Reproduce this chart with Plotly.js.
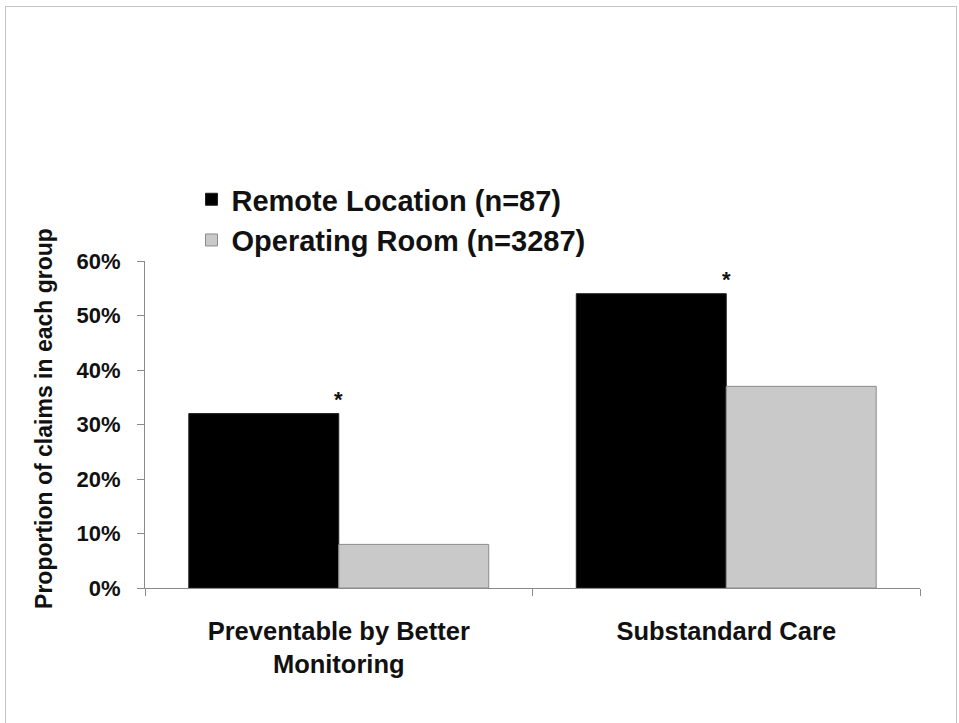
<!DOCTYPE html>
<html>
<head>
<meta charset="utf-8">
<script src="https://cdn.plot.ly/plotly-3.0.1.min.js"></script>
<style>
  html, body { margin: 0; padding: 0; background: #ffffff; }
  #wrap { position: relative; width: 959px; height: 723px; }
  #chart { position: absolute; left: 0; top: 0; width: 959px; height: 723px; }
  #frame { position: absolute; left: 5px; top: 6px; width: 952px; height: 730px;
           border: 1px solid #c4c4c4; box-sizing: border-box; pointer-events: none; }
</style>
</head>
<body>
<div id="wrap">
  <div id="chart"></div>
  <div id="frame"></div>
</div>
<script>
const categories = ["Preventable by Better<br>Monitoring", "Substandard Care"];
const seriesNames = ["Remote Location (n=87)", "Operating Room (n=3287)"];
const remoteValues = [32, 54];
const orValues = [8, 37];
const significance = ["*", "*"];
const yTickVals = [0, 10, 20, 30, 40, 50, 60];
const yTickText = ["0%", "10%", "20%", "30%", "40%", "50%", "60%"];
const yTitle = "Proportion of claims in each group";

const FONT = "Liberation Sans, Arial, sans-serif";

const traces = [
  {
    type: "bar", name: seriesNames[0], x: categories, y: remoteValues,
    marker: { color: "#000000", line: { color: "#222222", width: 1 } },
    hoverinfo: "none"
  },
  {
    type: "bar", name: seriesNames[1], x: categories, y: orValues,
    marker: { color: "#c9c9c9", line: { color: "#8c8c8c", width: 1 } },
    hoverinfo: "none"
  }
];

const annotations = categories.map((c, i) => ({
  x: c, y: remoteValues[i], xref: "x", yref: "y",
  text: "<b>" + significance[i] + "</b>", showarrow: false,
  xanchor: "center", yanchor: "bottom", yshift: 0,
  font: { family: FONT, size: 22, color: "#111111" }
}));

annotations.push({
  xref: "paper", yref: "paper", x: -0.1303, y: 0.517,
  xanchor: "center", yanchor: "middle", textangle: -90, showarrow: false,
  text: yTitle,
  font: { family: FONT, size: 23, color: "#111111", weight: "bold" }
});

const layout = {
  width: 959, height: 723,
  paper_bgcolor: "rgba(0,0,0,0)", plot_bgcolor: "rgba(0,0,0,0)",
  margin: { l: 145, r: 39, t: 261, b: 135, pad: 0 },
  barmode: "group", bargap: 0.226, bargroupgap: 0,
  showlegend: true,
  legend: {
    x: 0.06, y: 0.985, xanchor: "left", yanchor: "bottom",
    bgcolor: "rgba(0,0,0,0)", traceorder: "normal",
    font: { family: FONT, size: 29, color: "#111111", weight: "bold" },
    itemwidth: 30
  },
  xaxis: {
    type: "category", showline: true, linecolor: "#8a8a8a", linewidth: 1,
    ticks: "outside", tickson: "boundaries", ticklen: 7, tickcolor: "#8a8a8a",
    showgrid: false, zeroline: false, ticklabelstandoff: 20,
    tickfont: { family: FONT, size: 25.5, color: "#111111", weight: "bold" }
  },
  yaxis: {
    range: [0, 60], tickmode: "array", tickvals: yTickVals, ticktext: yTickText,
    showline: true, linecolor: "#8a8a8a", linewidth: 1,
    ticks: "outside", ticklen: 7, tickcolor: "#8a8a8a",
    showgrid: false, zeroline: false,
    tickfont: { family: FONT, size: 22, color: "#111111", weight: "bold" },
    ticklabelstandoff: 12
  },
  annotations: annotations
};

Plotly.newPlot("chart", traces, layout, { displayModeBar: false, staticPlot: true });
</script>
</body>
</html>
